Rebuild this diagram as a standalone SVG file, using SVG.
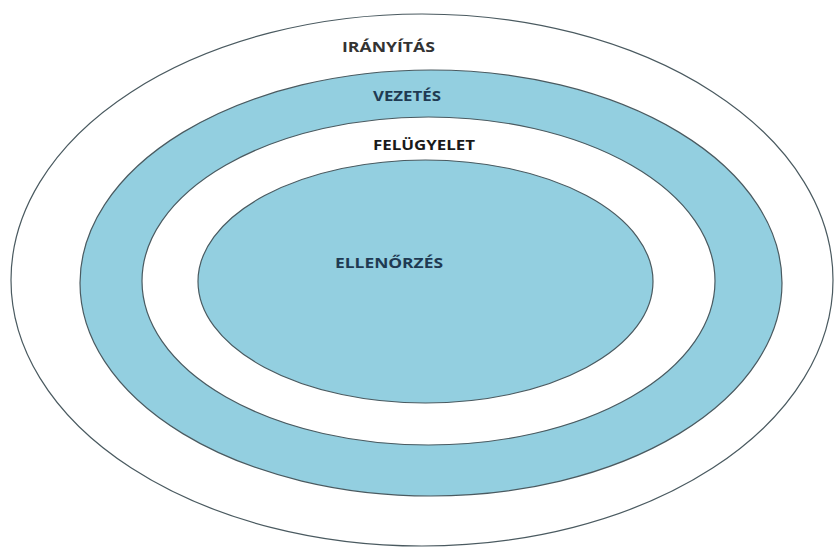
<svg xmlns="http://www.w3.org/2000/svg" width="837" height="548" viewBox="0 0 837 548">
<style>
.ring{stroke:#4a5a60;stroke-width:1.2}
.blue{fill:#93cfe0}
.white{fill:#ffffff}
.lbl{font-family:"Open Sans","Liberation Sans",sans-serif;font-weight:bold;font-size:14px;text-anchor:start}
</style>
<rect width="837" height="548" fill="#ffffff"/>
<g id="iranyitas">
<ellipse class="ring white" cx="422" cy="280" rx="411" ry="266"/>
<text class="lbl" x="342" y="52" fill="#333333" textLength="93" lengthAdjust="spacingAndGlyphs">IRÁNYÍTÁS</text>
</g>
<g id="vezetes">
<ellipse class="ring blue" cx="431" cy="283" rx="351" ry="213"/>
<text class="lbl" x="373" y="101" fill="#1f3a52" textLength="68" lengthAdjust="spacingAndGlyphs">VEZETÉS</text>
</g>
<g id="felugyelet">
<ellipse class="ring white" cx="428.5" cy="281" rx="286.5" ry="164"/>
<text class="lbl" x="373" y="150" fill="#1a1a1a" textLength="102" lengthAdjust="spacingAndGlyphs">FELÜGYELET</text>
</g>
<g id="ellenorzes">
<ellipse class="ring blue" cx="425.5" cy="281.5" rx="227.5" ry="121.5"/>
<text class="lbl" x="335" y="268" fill="#1f3a52" textLength="108" lengthAdjust="spacingAndGlyphs">ELLENŐRZÉS</text>
</g>
<g id="connectors"/>
</svg>
